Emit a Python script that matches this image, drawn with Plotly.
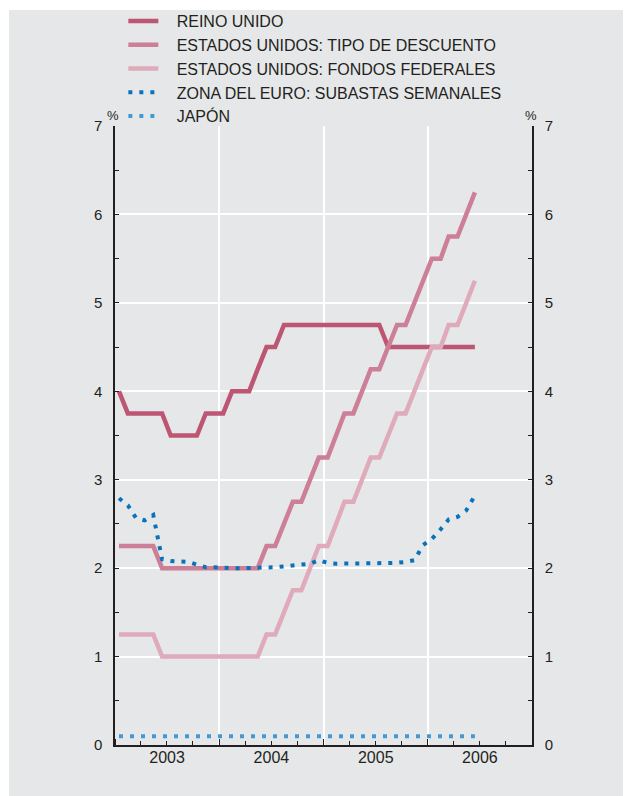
import pandas as pd
import plotly.graph_objects as go

# Monthly observations, Jan 2003 - Jun 2006
months = pd.date_range("2003-01-01", periods=42, freq="MS") + pd.Timedelta(days=14)

reino_unido = [4.0, 3.75, 3.75, 3.75, 3.75, 3.75, 3.5, 3.5, 3.5, 3.5, 3.75, 3.75,
               3.75, 4.0, 4.0, 4.0, 4.25, 4.5, 4.5, 4.75, 4.75, 4.75, 4.75, 4.75,
               4.75, 4.75, 4.75, 4.75, 4.75, 4.75, 4.75, 4.5, 4.5, 4.5, 4.5, 4.5,
               4.5, 4.5, 4.5, 4.5, 4.5, 4.5]
eeuu_descuento = [2.25, 2.25, 2.25, 2.25, 2.25, 2.0, 2.0, 2.0, 2.0, 2.0, 2.0, 2.0,
                  2.0, 2.0, 2.0, 2.0, 2.0, 2.25, 2.25, 2.5, 2.75, 2.75, 3.0, 3.25,
                  3.25, 3.5, 3.75, 3.75, 4.0, 4.25, 4.25, 4.5, 4.75, 4.75, 5.0, 5.25,
                  5.5, 5.5, 5.75, 5.75, 6.0, 6.25]
eeuu_fondos = [1.25, 1.25, 1.25, 1.25, 1.25, 1.0, 1.0, 1.0, 1.0, 1.0, 1.0, 1.0,
               1.0, 1.0, 1.0, 1.0, 1.0, 1.25, 1.25, 1.5, 1.75, 1.75, 2.0, 2.25,
               2.25, 2.5, 2.75, 2.75, 3.0, 3.25, 3.25, 3.5, 3.75, 3.75, 4.0, 4.25,
               4.5, 4.5, 4.75, 4.75, 5.0, 5.25]
zona_euro = [2.79, 2.71, 2.57, 2.54, 2.60, 2.10, 2.08, 2.08, 2.07, 2.04, 2.01, 2.01,
             2.00, 2.00, 2.00, 2.00, 2.00, 2.01, 2.01, 2.02, 2.03, 2.04, 2.05, 2.09,
             2.06, 2.05, 2.05, 2.05, 2.05, 2.05, 2.05, 2.05, 2.06, 2.07, 2.09, 2.26,
             2.33, 2.44, 2.55, 2.58, 2.65, 2.82]
japon = [0.1] * 42

series_names = ["REINO UNIDO", "ESTADOS UNIDOS: TIPO DE DESCUENTO",
                "ESTADOS UNIDOS: FONDOS FEDERALES",
                "ZONA DEL EURO: SUBASTAS SEMANALES", "JAPÓN"]

BG = "#e6e7e8"
TXT = "#231f20"
FONT = "Liberation Sans, Arial, sans-serif"
PAD = "\u00a0\u00a0\u00a0"

fig = go.Figure()
styles = [
    dict(color="#bd5672", width=4.5, dash="solid"),
    dict(color="#cc7f97", width=4.5, dash="solid"),
    dict(color="#dfabbb", width=4.5, dash="solid"),
    dict(color="#0a72bb", width=4, dash="4px,7px"),
    dict(color="#4399d3", width=4, dash="4px,7px"),
]
for i, (name, vals) in enumerate(zip(series_names,
                                     [reino_unido, eeuu_descuento, eeuu_fondos, zona_euro, japon])):
    fig.add_trace(go.Scatter(x=months, y=vals, mode="lines", name=PAD + name,
                             line=styles[i]))

# invisible trace for right axis
fig.add_trace(go.Scatter(x=[months[0]], y=[0], yaxis="y2", showlegend=False,
                         mode="markers", marker=dict(opacity=0), hoverinfo="skip"))

W, H = 623, 788
L, R, T, B = 107, 99, 118, 51
pw, ph = W - L - R, H - T - B

fig.update_layout(
    width=W, height=H,
    margin=dict(l=L, r=R, t=T, b=B, autoexpand=False),
    paper_bgcolor="white",
    plot_bgcolor="rgba(0,0,0,0)",
    font=dict(family=FONT, color=TXT, size=15),
    showlegend=True,
    legend=dict(x=0.02, y=1.0 + (T + 4) / ph, xanchor="left", yanchor="top",
                bgcolor="rgba(0,0,0,0)", font=dict(size=16, color=TXT),
                tracegroupgap=0, traceorder="normal"),
    xaxis=dict(type="date", range=["2003-01-01", "2007-01-01"],
               tick0="2003-01-01", dtick="M12", ticklabelmode="period", tickformat="%Y",
               ticks="inside", ticklen=6, tickcolor=TXT, tickwidth=1.2,
               minor=dict(dtick="M3", tick0="2003-01-01", ticks="inside", ticklen=4,
                          tickcolor=TXT, showgrid=False),
               showgrid=True, gridcolor="white", gridwidth=1.5,
               showline=True, linecolor=TXT, linewidth=1.5,
               tickfont=dict(size=16, color=TXT), zeroline=False,
               ticklabelstandoff=-3),
    yaxis=dict(range=[0, 7], dtick=1, tick0=0, ticks="inside", ticklen=4,
               tickcolor=TXT, minor=dict(dtick=0.5, ticks="inside", ticklen=4, tickcolor=TXT),
               showgrid=True, gridcolor="white", gridwidth=1.5,
               showline=True, linecolor=TXT, linewidth=1.5, zeroline=False,
               tickfont=dict(size=15, color=TXT), ticklabelstandoff=8),
    yaxis2=dict(range=[0, 7], dtick=1, tick0=0, overlaying="y", side="right",
                ticks="inside", ticklen=4, tickcolor=TXT,
                minor=dict(dtick=0.5, ticks="inside", ticklen=4, tickcolor=TXT),
                showgrid=False, showline=True, linecolor=TXT, linewidth=1.5,
                zeroline=False, tickfont=dict(size=15, color=TXT), ticklabelstandoff=8),
    shapes=[dict(type="rect", xref="paper", yref="paper",
                 x0=(1 - L) / pw, x1=(W + 10 - L) / pw,
                 y0=-(B + 10) / ph, y1=1.0 + (T - 2) / ph,
                 fillcolor=BG, line=dict(width=0), layer="below")],
    annotations=[
        dict(text="%", xref="paper", yref="paper", x=0, y=1.0, xanchor="center",
             xshift=-2, yanchor="bottom", yshift=1, showarrow=False,
             font=dict(size=13, color=TXT)),
        dict(text="%", xref="paper", yref="paper", x=1, y=1.0, xanchor="center",
             xshift=-1, yanchor="bottom", yshift=1, showarrow=False,
             font=dict(size=13, color=TXT)),
    ],
)

fig.write_html("out.html")
